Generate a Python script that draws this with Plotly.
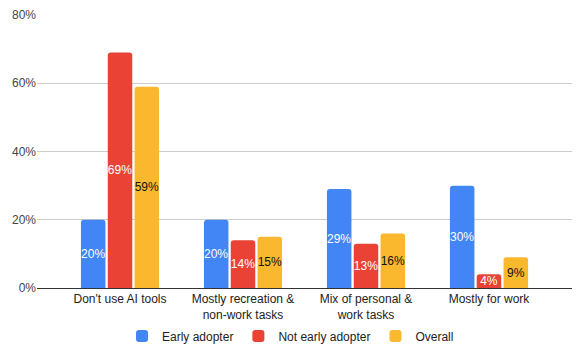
import plotly.graph_objects as go

categories = ["Don't use AI tools", "Mostly recreation &<br>non-work tasks",
              "Mix of personal &<br>work tasks", "Mostly for work"]
early_adopter = [20, 20, 29, 30]
not_early_adopter = [69, 14, 13, 4]
overall = [59, 15, 16, 9]

series = [
    ("Early adopter", early_adopter, "#4285F4", "white"),
    ("Not early adopter", not_early_adopter, "#EA4335", "white"),
    ("Overall", overall, "#F9B82D", "#111111"),
]

fig = go.Figure()
for name, vals, color, tcolor in series:
    fig.add_trace(go.Bar(
        name=name,
        x=categories,
        y=[v / 100 for v in vals],
        text=[f"{v}%" for v in vals],
        textposition="inside",
        insidetextanchor="middle",
        textangle=0,
        textfont=dict(color=tcolor, size=12, family="Liberation Sans, Arial"),
        marker=dict(color=color, line=dict(width=0), cornerradius=3),
        hoverinfo="skip",
    ))

fig.update_layout(
    width=581, height=355,
    margin=dict(l=37, r=9, t=15, b=67),
    paper_bgcolor="white", plot_bgcolor="white",
    barmode="group", bargap=0.346, bargroupgap=0.086,
    font=dict(family="Liberation Sans, Arial", size=12, color="#222222"),
    uniformtext=dict(minsize=12, mode="show"),
    showlegend=True,
    legend=dict(orientation="h", x=0.5, xanchor="center", xref="container",
                y=1 - 336 / 355, yanchor="middle", yref="container",
                font=dict(size=12, color="#222222"), itemwidth=30, traceorder="normal"),
    xaxis=dict(range=[-0.675, 3.675], showgrid=False, showline=True, linecolor="#333333",
               linewidth=1, ticks="", tickfont=dict(size=12, color="#222222"),
               zeroline=False, automargin=False),
    yaxis=dict(range=[0, 0.8], tickvals=[0, 0.2, 0.4, 0.6, 0.8], tickformat=".0%",
               showgrid=True, gridcolor="#cccccc", gridwidth=1, zeroline=False,
               showline=False, ticks="", tickfont=dict(size=12, color="#444444"),
               automargin=False),
)

fig.write_html("out.html", config={"displayModeBar": False},
               post_script="document.body.style.margin='0';")
